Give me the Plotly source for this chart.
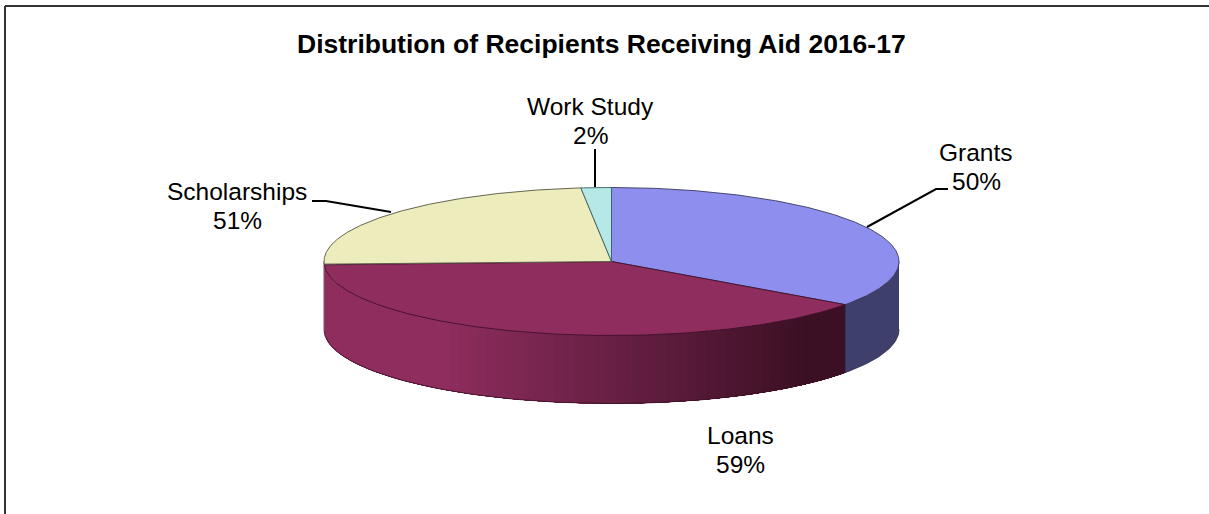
import numpy as np
import plotly.graph_objects as go

categories = ["Grants", "Loans", "Scholarships", "Work Study"]
slice_shares = [34.9, 39.4, 24.0, 1.7]
label_percent = ["50%", "59%", "51%", "2%"]
top_colors = ["#8E8EEE", "#8E2D5E", "#ECECBD", "#B6E8E8"]

TITLE = "Distribution of Recipients Receiving Aid 2016-17"
W, H = 1209, 514
CX, CY, RX, RY, DEPTH = 611.5, 261.5, 287.5, 74.0, 68.0
SIDE_GRANTS = "#3F3F6B"
GRAD_A, GRAD_B = (142, 45, 94), (60, 16, 36)
GRAD_X0, GRAD_X1 = 440, 800
FONT = "Liberation Sans"
LABEL_SIZE, LINE_GAP = 24.5, 29


def ell(t, dy=0.0):
    r = np.radians(t)
    return CX + RX * np.sin(r), CY - RY * np.cos(r) + dy


def poly(x, y, fill, line=None, width=1.0):
    return go.Scatter(x=list(x), y=list(y), mode="lines", fill="toself", fillcolor=fill,
                      line=dict(color=line or fill, width=width), hoverinfo="skip", showlegend=False)


edges = np.concatenate([[0], np.cumsum(slice_shares)]) * 3.6
fig = go.Figure()

# side wall: Loans gradient, painted as shrinking overlapping bands from left to right
t0, t1 = edges[1], min(edges[2], 270)
for t_end in np.linspace(t1, t0, 70)[:-1]:
    ts = np.linspace(t0, t_end, 60)
    xt, yt = ell(ts)
    xb, yb = ell(ts[::-1], DEPTH)
    f = np.clip((ell(t_end)[0] - GRAD_X0) / (GRAD_X1 - GRAD_X0), 0, 1)
    c = [round(p + (q - p) * f) for p, q in zip(GRAD_A, GRAD_B)]
    col = f"rgb({c[0]},{c[1]},{c[2]})"
    fig.add_trace(go.Scatter(x=list(np.r_[xt, xb]), y=list(np.r_[yt, yb]), mode="none", fill="toself",
                             fillcolor=col, hoverinfo="skip", showlegend=False))

ts = np.linspace(90, edges[1], 40)
xt, yt = ell(ts)
xb, yb = ell(ts[::-1], DEPTH)
fig.add_trace(poly(np.r_[xt, xb], np.r_[yt, yb], SIDE_GRANTS, "#2A2A45", 0.8))

# wall outline
ts = np.linspace(edges[1], 270, 80)
xb, yb = ell(ts, DEPTH)
fig.add_trace(go.Scatter(x=list(xb), y=list(yb), mode="lines", line=dict(color="#3A1025", width=0.8),
                         hoverinfo="skip", showlegend=False))
xl, yl = ell(np.array([270, 270]))
fig.add_trace(go.Scatter(x=[xl[0], xl[0]], y=[yl[0], yl[0] + DEPTH], mode="lines",
                         line=dict(color="#5A2040", width=0.8), hoverinfo="skip", showlegend=False))

# top face
line_cols = ["#3A3A60", "#40102A", "#55553F", "#3A6060"]
for i in range(4):
    ts = np.linspace(edges[i], edges[i + 1], max(4, int(edges[i + 1] - edges[i]) * 2))
    x, y = ell(ts)
    fig.add_trace(poly(np.r_[CX, x, CX], np.r_[CY, y, CY], top_colors[i], line_cols[i], 0.9))

# leader lines
LEADERS = {
    "Grants": ([867, 936, 948], [227, 189, 189]),
    "Scholarships": ([312, 326, 391], [201, 201, 212]),
    "Work Study": ([595, 595], [149, 187]),
}
for x, y in LEADERS.values():
    fig.add_trace(go.Scatter(x=x, y=y, mode="lines", line=dict(color="black", width=2),
                             hoverinfo="skip", showlegend=False))

LABEL_POS = {"Grants": (976, 152), "Loans": (740.5, 435), "Scholarships": (237, 191), "Work Study": (590.5, 106)}
for name, pct in zip(categories, label_percent):
    lx, ly = LABEL_POS[name]
    for k, txt in enumerate([name, pct]):
        fig.add_annotation(x=lx, y=ly + k * LINE_GAP, text=txt, showarrow=False, xanchor="center", yanchor="middle",
                           font=dict(family=FONT, size=LABEL_SIZE, color="black"))
fig.add_annotation(x=601, y=44, text=f"<b>{TITLE}</b>", showarrow=False, xanchor="center", yanchor="middle",
                   font=dict(family=FONT, size=26.5, color="black"))

frame = dict(color="#333333", width=2)
fig.update_layout(
    width=W, height=H, margin=dict(l=0, r=0, t=0, b=0),
    paper_bgcolor="white", plot_bgcolor="white",
    xaxis=dict(range=[0, W], visible=False, fixedrange=True),
    yaxis=dict(range=[H, 0], visible=False, fixedrange=True),
    shapes=[
        dict(type="line", xref="x", yref="y", x0=5, x1=W, y0=6, y1=6, line=frame),
        dict(type="line", xref="x", yref="y", x0=5, x1=5, y0=6, y1=H, line=frame),
    ],
)
fig.write_html("out.html", config={"displayModeBar": False},
               post_script="document.body.style.margin='0';")
